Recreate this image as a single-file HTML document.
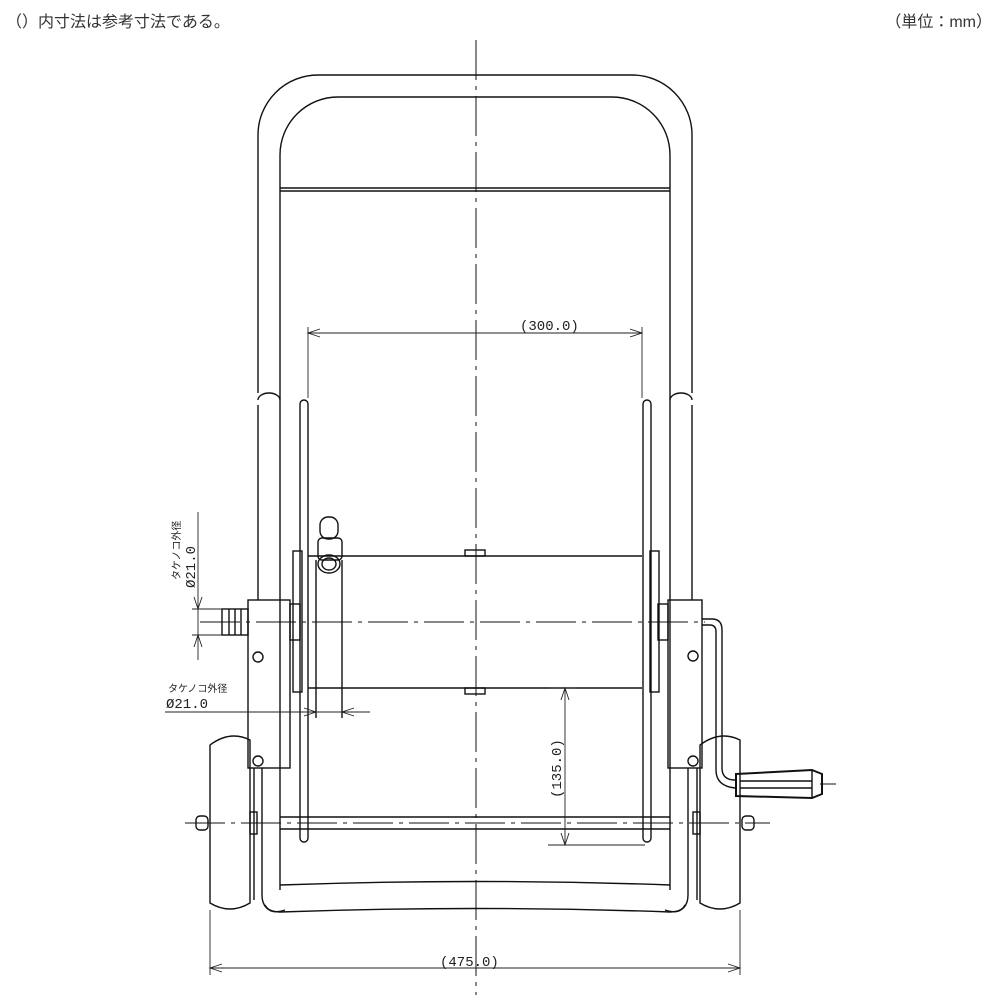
<!DOCTYPE html>
<html><head><meta charset="utf-8"><style>
html,body{margin:0;padding:0;background:#fff;width:1000px;height:1000px;overflow:hidden}
.t{position:absolute;font-family:"Liberation Sans","Noto Sans CJK JP",sans-serif;font-size:16px;color:#333;top:8px}
</style></head><body>
<div class="t" style="left:6px">（）内寸法は参考寸法である。</div>
<div class="t" style="right:8px">（単位：mm）</div>
<svg width="1000" height="1000" style="position:absolute;left:0;top:0" xmlns="http://www.w3.org/2000/svg">
<g fill="none" stroke="#111" stroke-width="1.4">
<path d="M258,393 V135 A60,60 0 0 1 318,75 H632 A60,60 0 0 1 692,135 V393"/>
<path d="M280,890 V155 A58,58 0 0 1 338,97 H612 A58,58 0 0 1 670,155 V890"/>
<line x1="280" y1="188" x2="670" y2="188"/><line x1="280" y1="191" x2="670" y2="191"/>
<path d="M258,400 A11,7 0 0 1 280,400"/><path d="M258,405 V600"/>
<path d="M670,400 A11,7 0 0 1 692,400"/><path d="M692,405 V600"/>
<path d="M262,768 V895 Q262,912 280,912 Q476,905 670,912 Q688,912 688,895 V768"/>
<path d="M280,885 Q476,878 670,885"/>
<path d="M265,905 Q270,915 285,910"/><path d="M685,905 Q680,915 665,910"/>
<rect x="300" y="400" width="8" height="442" rx="4"/>
<rect x="643" y="400" width="8" height="442" rx="4"/>
<line x1="308" y1="556" x2="642" y2="556"/><line x1="308" y1="688" x2="642" y2="688"/>
<rect x="293" y="551" width="9" height="141"/><rect x="650" y="551" width="9" height="141"/>
<rect x="465" y="550" width="20" height="6"/><rect x="465" y="688" width="20" height="6"/>
<rect x="290" y="604" width="10" height="36"/><rect x="658" y="604" width="10" height="36"/>
<line x1="316" y1="560" x2="316" y2="718"/><line x1="342" y1="560" x2="342" y2="718"/>
<rect x="248" y="600" width="42" height="168"/>
<rect x="668" y="600" width="34" height="168"/>
<circle cx="258" cy="657" r="5"/><circle cx="258" cy="761" r="5"/>
<circle cx="693" cy="656" r="5"/><circle cx="693" cy="761" r="5"/>
<rect x="222" y="609" width="26" height="26"/>
<line x1="229" y1="609" x2="229" y2="635"/><line x1="235" y1="609" x2="235" y2="635"/><line x1="241" y1="609" x2="241" y2="635"/>
<rect x="320" y="517" width="18" height="22" rx="8"/>
<rect x="318" y="538" width="24" height="22" rx="4"/>
<ellipse cx="329" cy="564" rx="11" ry="9"/><ellipse cx="329" cy="564" rx="7" ry="6"/>
<path d="M210,745 Q230,730 250,740 V903 Q230,915 210,903 Z"/>
<path d="M700,745 Q720,730 740,740 V903 Q720,915 700,903 Z"/>
<line x1="254" y1="768" x2="254" y2="900"/><line x1="697" y1="768" x2="697" y2="900"/>
<rect x="196" y="816" width="12" height="14" rx="4"/><rect x="742" y="816" width="12" height="14" rx="4"/>
<rect x="250" y="812" width="7" height="22"/><rect x="693" y="812" width="7" height="22"/>
<line x1="280" y1="817" x2="670" y2="817"/><line x1="280" y1="829" x2="670" y2="829"/>
<path d="M702,619 H712 Q722,619 722,630 V768 Q722,780 735,780"/>
<path d="M702,625 H710 Q716,625 716,632 V770 Q716,786 735,788"/>
<path d="M736,774 L812,770 L822,774 V794 L812,798 L736,796 Z" stroke-width="2"/>
<line x1="740" y1="781" x2="812" y2="781"/><line x1="740" y1="788" x2="812" y2="788"/>
<line x1="812" y1="770" x2="812" y2="798"/>
</g>
<g stroke="#111" stroke-width="1" fill="none" stroke-dasharray="40,6,4,6">
<line x1="476" y1="40" x2="476" y2="995"/>
<line x1="200" y1="622" x2="705" y2="622"/>
<line x1="185" y1="823" x2="770" y2="823"/>
<line x1="820" y1="784" x2="836" y2="784"/>
</g>
<g stroke="#222" stroke-width="0.9" fill="none">
<line x1="308" y1="327" x2="308" y2="398"/><line x1="642" y1="327" x2="642" y2="398"/>
<line x1="308" y1="333" x2="642" y2="333"/>
<path d="M320,329 L308,333 L320,337 M630,329 L642,333 L630,337"/>
<line x1="210" y1="910" x2="210" y2="975"/><line x1="740" y1="910" x2="740" y2="975"/>
<line x1="210" y1="968" x2="740" y2="968"/>
<path d="M222,964 L210,968 L222,972 M728,964 L740,968 L728,972"/>
<line x1="548" y1="688" x2="575" y2="688"/><line x1="548" y1="845" x2="645" y2="845"/>
<line x1="565" y1="688" x2="565" y2="845"/>
<path d="M561,700 L565,688 L569,700 M561,833 L565,845 L569,833"/>
<line x1="198" y1="512" x2="198" y2="660"/>
<line x1="192" y1="609" x2="222" y2="609"/><line x1="192" y1="635" x2="222" y2="635"/>
<path d="M194,597 L198,609 L202,597 M194,647 L198,635 L202,647"/>
<line x1="165" y1="712" x2="370" y2="712"/>
<path d="M304,708 L316,712 L304,716 M354,708 L342,712 L354,716"/>
</g>
<g font-family="Liberation Mono,monospace" font-size="14" fill="#222">
<text x="520" y="330">(300.0)</text>
<text x="440" y="966">(475.0)</text>
<text transform="translate(561,798) rotate(-90)">(135.0)</text>
<text x="166" y="708">Ø21.0</text>
<text transform="translate(195,588) rotate(-90)">Ø21.0</text>
</g>
<g font-family="Liberation Sans,'Noto Sans CJK JP',sans-serif" font-size="10" fill="#222">
<text x="168" y="692">タケノコ外径</text>
<text transform="translate(180,580) rotate(-90)">タケノコ外径</text>
</g>
</svg>
</body></html>
